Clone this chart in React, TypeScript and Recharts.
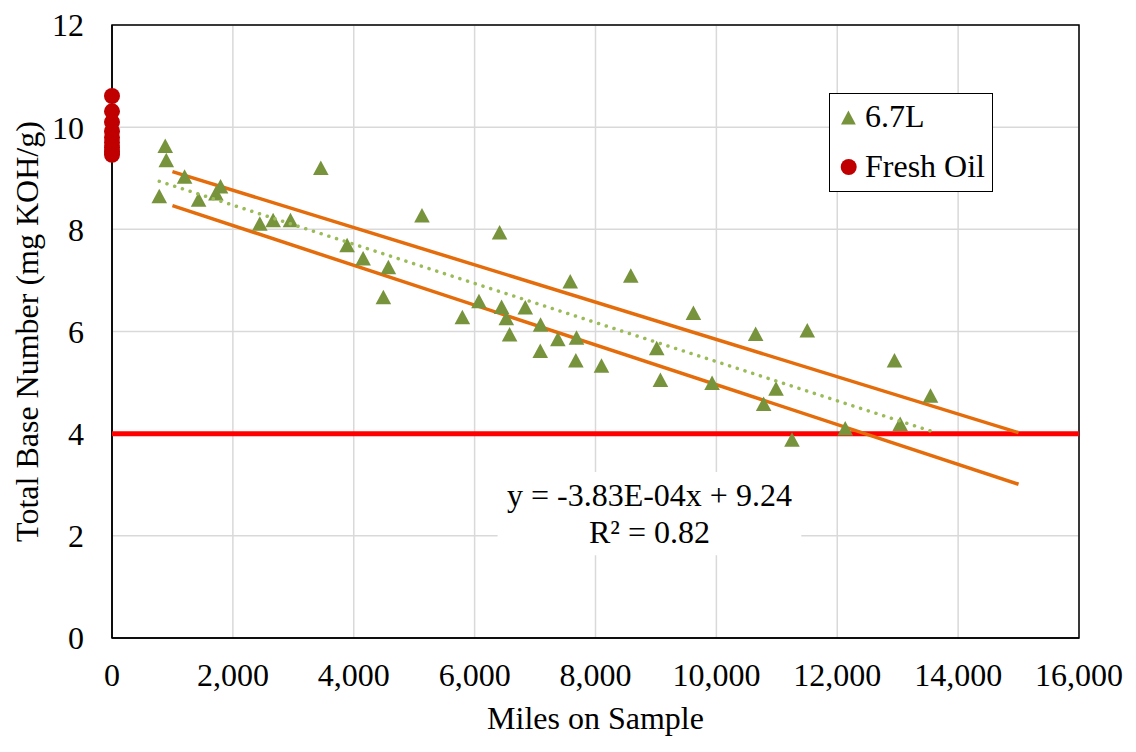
import React from 'react';
import { ScatterChart, Scatter, XAxis, YAxis, CartesianGrid, ReferenceArea, Legend } from 'recharts';

// ---- data ----
const miles67 = [782, 881, 898, 1201, 1433, 1719, 1796, 2446, 2666, 2953, 3455, 3890, 4155, 4573, 4490, 5129, 5797, 6072, 6413, 6446, 6524, 6579, 6838, 7091, 7086, 7377, 7582, 7686, 7675, 8099, 8584, 9013, 9074, 9620, 9929, 10650, 10782, 10987, 11251, 11504, 12132, 12947, 13041, 13543];
const tbn67 = [8.65, 9.63, 9.35, 9.03, 8.58, 8.7, 8.84, 8.11, 8.18, 8.18, 9.2, 7.69, 7.43, 7.26, 6.67, 8.27, 6.28, 6.59, 7.94, 6.48, 6.26, 5.94, 6.47, 6.13, 5.62, 5.85, 6.98, 5.88, 5.43, 5.33, 7.09, 5.67, 5.05, 6.36, 4.99, 5.95, 4.58, 4.88, 3.88, 6.02, 4.1, 5.43, 4.19, 4.74];
const freshOilMiles = [0, 0, 0, 0, 0, 0, 0, 0, 0];
const freshOilTbn = [10.61, 10.31, 10.1, 9.92, 9.8, 9.7, 9.6, 9.52, 9.46];
const xTicks = [0, 2000, 4000, 6000, 8000, 10000, 12000, 14000, 16000];
const yTicks = [0, 2, 4, 6, 8, 10, 12];
const trendSlope = -3.83e-4;
const trendIntercept = 9.24;
const trendRange = [782, 13543];
const upperBandX = [1000, 15000];
const upperBandY = [9.13, 4.02];
const lowerBandX = [1000, 15000];
const lowerBandY = [8.465, 3.01];
const limitX = [0, 16000];
const limitY = [4, 4];
const labelBoxX = [6380, 11405];
const labelBoxY = [1.62, 3.25];
const equationText = 'y = -3.83E-04x + 9.24';
const r2Text = 'R² = 0.82';
const seriesNames = ['6.7L', 'Fresh Oil'];

const zip = (xs: number[], ys: number[]) => xs.map((x, i) => ({ x, y: ys[i] }));
const data67 = zip(miles67, tbn67);
const dataFresh = zip(freshOilMiles, freshOilTbn);
const trendData = trendRange.map((x) => ({ x, y: trendIntercept + trendSlope * x }));
const upperData = zip(upperBandX, upperBandY);
const lowerData = zip(lowerBandX, lowerBandY);
const limitData = zip(limitX, limitY);

const FONT = '"Liberation Serif", "Times New Roman", serif';
const FS = 32;
const GREEN = '#77933C';
const RED_DOT = '#C00000';
const ORANGE = '#E46C0A';
const TREND = '#9BBB59';

const Triangle = (props: any) => {
  const { cx, cy } = props;
  if (cx == null || cy == null) return <g />;
  return <polygon points={`${cx},${cy - 7.5} ${cx - 7.8},${cy + 7} ${cx + 7.8},${cy + 7}`} fill={GREEN} />;
};
const Dot = (props: any) => {
  const { cx, cy } = props;
  if (cx == null || cy == null) return <g />;
  return <circle cx={cx} cy={cy} r={8} fill={RED_DOT} />;
};
const NoShape = () => <g />;

const LegendBox = () => (
  <div
    style={{
      width: 164,
      height: 99,
      border: '1.5px solid #000',
      boxSizing: 'border-box',
      background: '#fff',
    }}
  >
    <svg width={161} height={96} style={{ display: 'block' }}>
      <polygon points="18.4,16.5 11,30.5 25.8,30.5" fill={GREEN} />
      <text x={35} y={32.5} fontFamily={FONT} fontSize={FS} fill="#000">{seriesNames[0]}</text>
      <circle cx={18.7} cy={73} r={8} fill={RED_DOT} />
      <text x={35} y={82.5} fontFamily={FONT} fontSize={FS} fill="#000">{seriesNames[1]}</text>
    </svg>
  </div>
);

const EquationLabel = (props: any) => {
  const vb = props.viewBox || {};
  const cx = vb.x + vb.width / 2;
  return (
    <g>
      <text x={cx} y={vb.y + 34.5} textAnchor="middle" fontFamily={FONT} fontSize={FS} fill="#000">{equationText}</text>
      <text x={cx} y={vb.y + 71} textAnchor="middle" fontFamily={FONT} fontSize={FS} fill="#000">{r2Text}</text>
    </g>
  );
};

const XTitle = (props: any) => {
  const vb = props.viewBox || {};
  return (
    <text x={vb.x + vb.width / 2} y={vb.y + 91} textAnchor="middle" fontFamily={FONT} fontSize={FS} fill="#000">
      Miles on Sample
    </text>
  );
};
const YTitle = (props: any) => {
  const vb = props.viewBox || {};
  const cx = 38;
  const cy = vb.y + vb.height / 2;
  return (
    <text x={cx} y={cy} transform={`rotate(-90 ${cx} ${cy})`} textAnchor="middle" fontFamily={FONT} fontSize={FS} fill="#000">
      Total Base Number (mg KOH/g)
    </text>
  );
};

const fmt = (v: number) => v.toLocaleString('en-US');

export default function App() {
  return (
    <div style={{ position: 'absolute', left: 0, top: 0, background: '#fff' }}>
      <ScatterChart width={1136} height={752} margin={{ top: 25, right: 57, bottom: 0, left: 0 }}>
        <CartesianGrid stroke="#D9D9D9" strokeWidth={1.5} />
        <XAxis
          type="number"
          dataKey="x"
          domain={[0, 16000]}
          ticks={xTicks}
          tickFormatter={fmt}
          height={114}
          axisLine={{ stroke: '#000', strokeWidth: 1.5 }}
          tickLine={false}
          tickMargin={19}
          tick={{ fill: '#000', fontSize: FS, fontFamily: FONT }}
          label={<XTitle />}
        />
        <YAxis
          type="number"
          dataKey="y"
          domain={[0, 12]}
          ticks={yTicks}
          width={112}
          axisLine={{ stroke: '#000', strokeWidth: 1.5 }}
          tickLine={false}
          tickMargin={22}
          tick={{ fill: '#000', fontSize: FS, fontFamily: FONT }}
          label={<YTitle />}
        />
        <ReferenceArea x1={0} x2={16000} y1={0} y2={12} fill="none" stroke="#000" strokeWidth={1.5} />
        <ReferenceArea
          x1={labelBoxX[0]}
          x2={labelBoxX[1]}
          y1={labelBoxY[0]}
          y2={labelBoxY[1]}
          fill="#fff"
          fillOpacity={1}
          stroke="none"
          label={<EquationLabel />}
        />
        <Legend
          layout="horizontal"
          verticalAlign="middle"
          align="center"
          content={() => <LegendBox />}
          wrapperStyle={{ position: 'absolute', left: 829, top: 93, width: 164, height: 99 }}
        />
        <Scatter name="limit" data={limitData} shape={NoShape} line={{ stroke: '#FF0000', strokeWidth: 5 }} isAnimationActive={false} legendType="none" />
        <Scatter name="upper" data={upperData} shape={NoShape} line={{ stroke: ORANGE, strokeWidth: 3.5 }} isAnimationActive={false} legendType="none" />
        <Scatter name="lower" data={lowerData} shape={NoShape} line={{ stroke: ORANGE, strokeWidth: 3.5 }} isAnimationActive={false} legendType="none" />
        <Scatter name={seriesNames[0]} data={data67} shape={Triangle} isAnimationActive={false} />
        <Scatter
          name="trend"
          data={trendData}
          shape={NoShape}
          line={{ stroke: TREND, strokeWidth: 3.5, strokeDasharray: '0.1 8', strokeLinecap: 'round' }}
          isAnimationActive={false}
          legendType="none"
        />
        <Scatter name={seriesNames[1]} data={dataFresh} shape={Dot} isAnimationActive={false} />
      </ScatterChart>
    </div>
  );
}
